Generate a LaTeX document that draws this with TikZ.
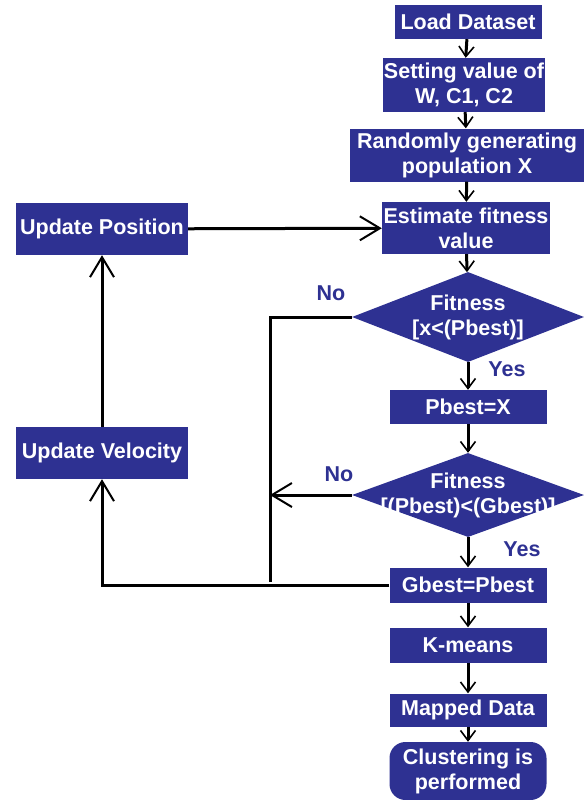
\documentclass[tikz,border=0pt]{standalone}
\usepackage{fontspec}
\setmainfont{Liberation Sans}
\usepackage{xcolor}
\usepackage{tikz}
\usetikzlibrary{shapes.geometric, arrows.meta}

\definecolor{boxblue}{HTML}{2E3192}
\tikzset{
  box/.style={rectangle, fill=boxblue, text=white, font=\fontsize{21.5}{25}\selectfont\bfseries, align=center, inner sep=0pt},
  decision/.style={diamond, fill=boxblue, inner sep=0pt},
  dtext/.style={text=white, font=\fontsize{21.5}{25}\selectfont\bfseries, align=center},
  lbl/.style={text=boxblue, font=\fontsize{21.5}{25}\selectfont\bfseries},
  flow/.style={line width=3pt, -{Straight Barb[length=10pt,width=15pt,line width=1.6pt]}},
  bigflow/.style={line width=3pt, -{Straight Barb[length=20pt,width=24pt,line width=2pt]}}
}

\begin{document}
\begin{tikzpicture}[x=1pt, y=-1pt]
\useasboundingbox (0,0) rectangle (584,800);

\node[box, minimum width=147, minimum height=34] (load) at (468,22) {Load Dataset};
\node[box, minimum width=162, minimum height=54] (setting) at (464,85) {Setting value of\\W, C1, C2};
\node[box, minimum width=234, minimum height=53] (random) at (467,155) {Randomly generating\\population X};
\node[box, minimum width=168, minimum height=52] (estimate) at (466,228) {Estimate fitness\\value};

\node[decision, minimum width=232, minimum height=90] (fit1) at (468,317) {};
\node[dtext] (fit1txt) at (fit1) {Fitness\\{}[x<(Pbest)]};
\node[box, minimum width=157, minimum height=34] (pbest) at (468,407) {Pbest=X};
\node[decision, minimum width=232, minimum height=84] (fit2) at (468,495) {};
\node[dtext] (fit2txt) at (fit2) {Fitness\\{}[(Pbest)<(Gbest)]};
\node[box, minimum width=157, minimum height=35] (gbest) at (468,585) {Gbest=Pbest};
\node[box, minimum width=157, minimum height=35] (kmeans) at (468,645) {K-means};
\node[box, minimum width=157, minimum height=33] (mapped) at (468,710) {Mapped Data};
\node[box, rounded corners=16pt, minimum width=157, minimum height=58] (cluster) at (468,771) {Clustering is\\performed};

\node[box, minimum width=172, minimum height=52] (updpos) at (102,229) {Update Position};
\node[box, minimum width=172, minimum height=52] (updvel) at (102,453) {Update Velocity};

\node[lbl] (no1) at (331,293) {No};
\node[lbl] (no2) at (339,474) {No};
\node[lbl] (yes1) at (507,369) {Yes};
\node[lbl] (yes2) at (522,549) {Yes};

\coordinate (loop) at (270,582);

% main column
\draw[flow] (load) -- (setting);
\draw[flow] (setting) -- (random);
\draw[flow] (random) -- (estimate);
\draw[flow] (estimate) -- (fit1);
\draw[flow] (fit1) -- (pbest);
\draw[flow] (pbest) -- (fit2);
\draw[flow] (fit2) -- (gbest);
\draw[flow] (gbest) -- (kmeans);
\draw[flow] (kmeans) -- (mapped);
\draw[flow] (mapped) -- (cluster);

% feedback
\draw[line width=3pt] (fit1.west) -| (loop);
\draw[bigflow] (fit2.west) -- (fit2.west -| loop);
\draw[bigflow] (gbest.west) -| (updvel.south);
\draw[bigflow] (updvel) -- (updpos);
\draw[bigflow] (updpos) -- (estimate);
\end{tikzpicture}
\end{document}
